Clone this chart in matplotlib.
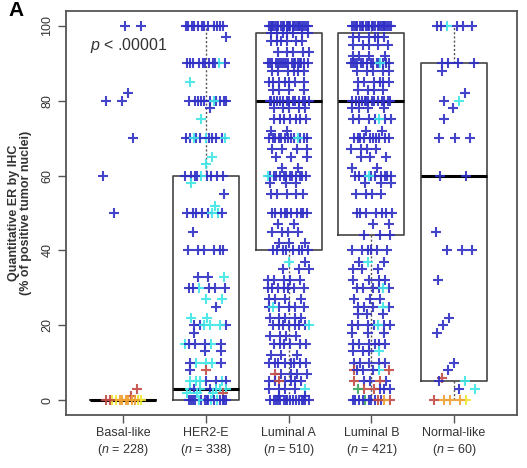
import matplotlib
matplotlib.use("Agg")
import matplotlib.pyplot as plt

plt.rcParams['font.family'] = ['Liberation Sans', 'DejaVu Sans']
plt.rcParams['mathtext.fontset'] = 'custom'
plt.rcParams['mathtext.it'] = 'Liberation Sans:italic'
plt.rcParams['mathtext.rm'] = 'Liberation Sans'

# subtypes and sample sizes
groups = ["Basal-like", "HER2-E", "Luminal A", "Luminal B", "Normal-like"]
n_sizes = [228, 338, 510, 421, 60]

# box summaries (% positive nuclei)
box_q1 = [0, 0, 40, 44, 5]
box_med = [0, 3, 80, 80, 60]
box_q3 = [0, 60, 98, 98, 90]
whisk_lo = [0, 0, 0, 0, 0]
whisk_hi = [0, 100, 100, 100, 100]

# points per ER level, one letter per case (b/c/r/o/y/g = colour class)
basal_pts = {100: "bb", 82: "b", 80: "bb", 70: "b", 60: "b", 50: "b",
             3: "r", 1: "r", 0: "oyyoroyyoroo"}
her2_pts = {100: "bbbbbbbbbbbb", 97: "b", 90: "bbbbbbbcbbb", 85: "c",
            80: "bbbbbbbbcbb", 78: "b", 75: "c", 70: "bbbbcbbbcbc",
            65: "c", 63: "c", 60: "bbbbbcbbb", 58: "c", 55: "b", 52: "c",
            50: "bbcbbcbb", 45: "b", 40: "bbbbbb", 33: "bcb", 30: "bbcbbb",
            27: "cc", 25: "b", 22: "cc", 20: "bbcbcc", 18: "b", 15: "ccbbbb",
            13: "bb", 10: "ccbcb", 8: "rb", 5: "ccbcbcb", 3: "ccccbbc",
            2: "cccr", 0: "bbbcbbcbbbbbcbbb"}
luma_pts = {100: "b" * 24, 98: "bbbbbbb", 96: "bbbbbb", 93: "bbbbb",
            90: "b" * 18, 88: "bbbbbb", 85: "bbbbbbb", 83: "bbbb",
            80: "b" * 14, 78: "bbbbb", 75: "bbbbbbb", 72: "bb",
            70: "b" * 12 + "c", 67: "bbbb", 65: "bbb", 62: "bb",
            60: "b" * 12 + "c", 58: "bbb", 55: "bbbbb", 50: "b" * 10,
            47: "bb", 45: "bbbb", 42: "bbb", 40: "bbbbbbbb", 37: "bc",
            35: "bbb", 32: "bbbbb", 30: "bbbbbbb", 27: "bbbb", 25: "bbbbbc",
            22: "bbbbb", 20: "bbbbbbbc", 17: "bbbb", 15: "bbbbbb", 12: "bbb",
            10: "bbbbbbbb", 7: "bbbbr", 5: "bbbbbbr", 3: "bbbbc", 1: "bb",
            0: "b" * 16}
lumb_pts = {100: "b" * 22, 97: "bbbbbb", 95: "bbbbb", 92: "bbbb",
            90: "b" * 14 + "c", 88: "bbbbb", 85: "bbbbbb", 83: "bbbb",
            80: "b" * 14, 78: "bbbb", 75: "bbbbbbc", 72: "bb", 70: "b" * 10,
            67: "bbbb", 65: "bbb", 62: "bb", 60: "b" * 9 + "c", 58: "bbb",
            55: "bbbb", 50: "bbbbbbb", 47: "bb", 44: "bbb", 40: "bbbbbb",
            37: "bbc", 35: "bbb", 32: "bbbb", 30: "bbbbbc", 27: "bbb",
            25: "bbbbc", 23: "bbb", 20: "bbbbbbc", 18: "bbb", 15: "bbbbbb",
            13: "bbcb", 10: "bbbbb", 8: "rcbrbb", 5: "bbrrb", 3: "brbrgb",
            0: "bbbgrbbobbrb"}
normal_pts = {100: "bbcbbb", 90: "bbbb", 88: "b", 82: "b", 80: "cb",
              78: "b", 75: "b", 70: "bbb", 60: "bb", 45: "b", 40: "bbb",
              32: "b", 22: "b", 20: "b", 18: "b", 10: "b", 8: "b", 6: "r",
              5: "bc", 3: "cb", 0: "yoroo"}
all_pts = [basal_pts, her2_pts, luma_pts, lumb_pts, normal_pts]

palette = {"b": "#2f2fc6", "c": "#40e6e6", "r": "#c24a44",
           "o": "#f0a030", "y": "#f0e632", "g": "#3aa860"}

fig = plt.figure(figsize=(5.27, 4.68), dpi=100)
ax = fig.add_axes([66 / 527, 53 / 468, 451 / 527, 404 / 468])

stats = []
for i, name in enumerate(groups):
    stats.append(dict(label=name, med=box_med[i], q1=box_q1[i], q3=box_q3[i],
                      whislo=whisk_lo[i], whishi=whisk_hi[i], fliers=[]))
ax.bxp(stats, positions=range(1, 6), widths=0.8, showcaps=False,
       boxprops=dict(color="#444444", lw=1.2),
       medianprops=dict(color="black", lw=2.2, solid_capstyle="butt"),
       whiskerprops=dict(color="#555555", lw=1.0, linestyle=(0, (1.5, 1.5))))

# spread cases across the strip (deterministic jitter)
for gi, pts in enumerate(all_pts):
    for val, codes in pts.items():
        for k, code in enumerate(codes):
            frac = ((k + 1) * 0.618034 + val * 0.0731 + gi * 0.29) % 1.0
            x = gi + 1 + (frac - 0.5) * 0.5
            ax.plot(x, val, marker="+", ms=6.5, mew=1.5, color=palette[code],
                    alpha=0.9, zorder=3, linestyle="none")

ax.set_xlim(0.31, 5.76)
ax.set_ylim(-4, 104)
ax.set_xticks(range(1, 6))
ax.set_xticklabels([f"{g}\n($n$ = {n})" for g, n in zip(groups, n_sizes)],
                   fontsize=9, color="#333333", linespacing=1.2)
ax.set_yticks([0, 20, 40, 60, 80, 100])
ax.set_yticklabels(["0", "20", "40", "60", "80", "100"], rotation=90,
                   va="center", fontsize=9, color="#333333")
ax.tick_params(length=6, width=1.0, color="#555555", pad=3)
for sp in ax.spines.values():
    sp.set_color("#555555")
    sp.set_linewidth(1.3)

ax.text(0.6, 94.7, "$p$ < .00001", fontsize=11.5, color="#333333",
        ha="left", va="center")

fig.text(20 / 527, 1 - 213 / 468,
         "Quantitative ER by IHC\n(% of positive tumor nuclei)",
         rotation=90, ha="center", va="center", fontsize=9,
         fontweight="bold", color="#333333", linespacing=1.0,
         multialignment="center")
fig.text(8 / 527, 1 - 1 / 468, "A", fontsize=15, fontweight="bold",
         ha="left", va="top")

fig.savefig("out.png", dpi=100)
